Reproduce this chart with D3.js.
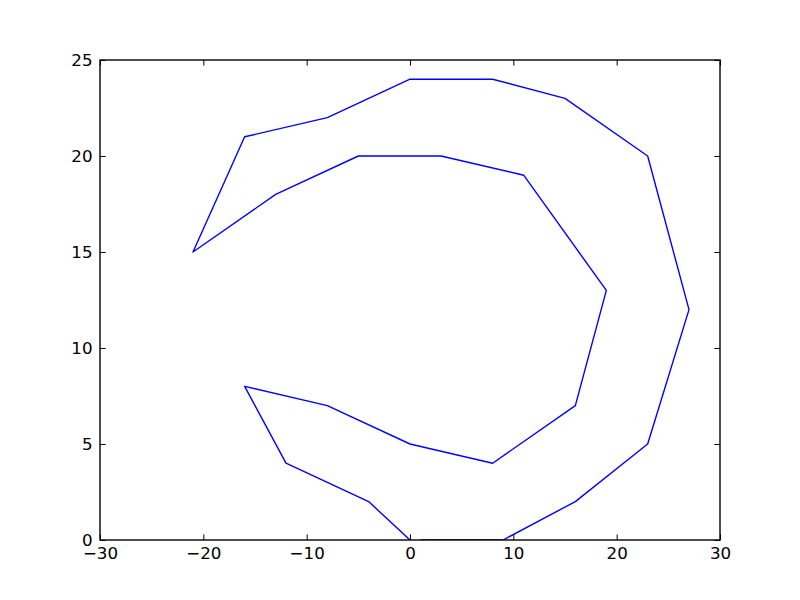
<!DOCTYPE html>
<html>
<head>
<meta charset="utf-8">
<script src="https://cdn.jsdelivr.net/npm/d3@7"></script>
<style>
  html, body { margin: 0; padding: 0; background: #fff; }
  text { font-family: "DejaVu Sans", sans-serif; }
</style>
</head>
<body>
<svg id="chart" width="800" height="600"></svg>
<script>
const xValues = [0, -4, -12, -16, -8, 0, 8, 16, 19, 11, 3, -5, -13, -21, -16, -8, 0, 8, 15, 23, 27, 23, 16, 9, 1];
const yValues = [0, 2, 4, 8, 7, 5, 4, 7, 13, 19, 20, 20, 18, 15, 21, 22, 24, 24, 23, 20, 12, 5, 2, 0, 0];
const xTicks = [-30, -20, -10, 0, 10, 20, 30];
const yTicks = [0, 5, 10, 15, 20, 25];

const margin = { left: 100, right: 80, top: 60, bottom: 60 };
const W = 800, H = 600;
const svg = d3.select("#chart");

const x = d3.scaleLinear().domain([-30, 30]).range([margin.left, W - margin.right]);
const y = d3.scaleLinear().domain([0, 25]).range([H - margin.bottom, margin.top]);

const clipId = "plotclip";
svg.append("defs").append("clipPath").attr("id", clipId)
  .append("rect")
  .attr("x", margin.left).attr("y", margin.top)
  .attr("width", W - margin.left - margin.right)
  .attr("height", H - margin.top - margin.bottom);

const pts = xValues.map((v, i) => [v, yValues[i]]);
const line = d3.line().x(d => x(d[0])).y(d => y(d[1]));

svg.append("path")
  .datum(pts)
  .attr("clip-path", `url(#${clipId})`)
  .attr("d", line)
  .attr("fill", "none")
  .attr("stroke", "#0000ff")
  .attr("stroke-width", 1.4)
  .attr("stroke-linejoin", "round");

const tickLen = 5.6;
const fmt = d => d < 0 ? "\u2212" + Math.abs(d) : String(d);
const fs = "16.7px";

const xb = svg.append("g").attr("transform", `translate(0,${y(0)})`)
  .call(d3.axisBottom(x).tickValues(xTicks).tickSizeInner(-tickLen).tickSizeOuter(0).tickPadding(7).tickFormat(fmt));
const xt = svg.append("g").attr("transform", `translate(0,${y(25)})`)
  .call(d3.axisTop(x).tickValues(xTicks).tickSizeInner(-tickLen).tickSizeOuter(0).tickFormat(""));
const yl = svg.append("g").attr("transform", `translate(${x(-30)},0)`)
  .call(d3.axisLeft(y).tickValues(yTicks).tickSizeInner(-tickLen).tickSizeOuter(0).tickPadding(7.5).tickFormat(fmt));
const yr = svg.append("g").attr("transform", `translate(${x(30)},0)`)
  .call(d3.axisRight(y).tickValues(yTicks).tickSizeInner(-tickLen).tickSizeOuter(0).tickFormat(""));

[xb, xt, yl, yr].forEach(g => {
  g.select(".domain").remove();
  g.selectAll(".tick line").attr("stroke", "#000").attr("stroke-width", 1);
  g.selectAll(".tick text").attr("fill", "#000").style("font-size", fs).style("font-family", "DejaVu Sans, sans-serif");
});

svg.append("rect")
  .attr("x", x(-30)).attr("y", y(25))
  .attr("width", x(30) - x(-30)).attr("height", y(0) - y(25))
  .attr("fill", "none").attr("stroke", "#000").attr("stroke-width", 1.4);
</script>
</body>
</html>
